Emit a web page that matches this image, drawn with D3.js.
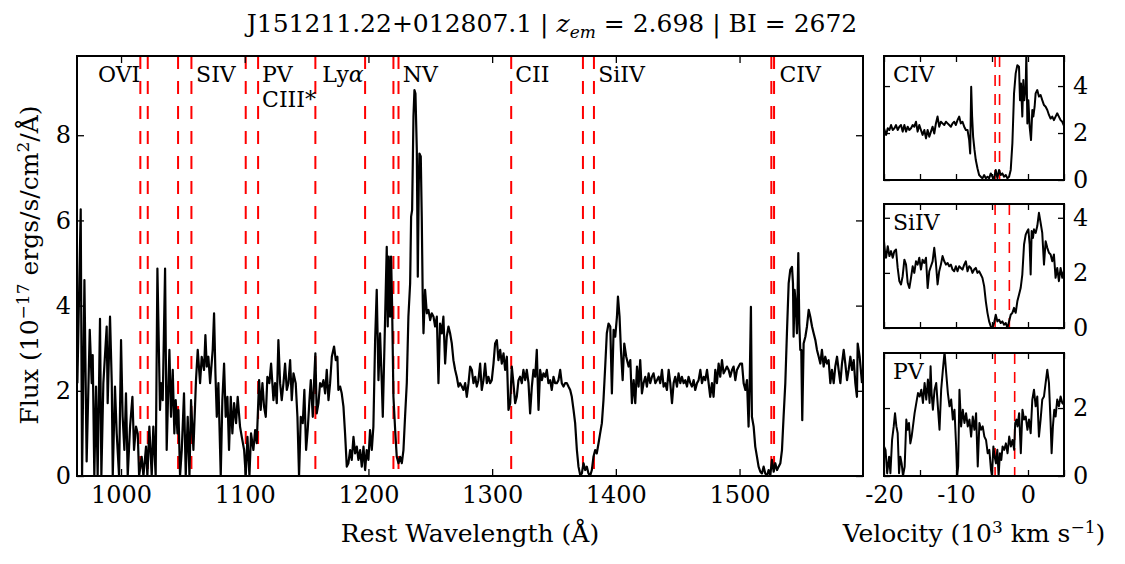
<!DOCTYPE html>
<html><head><meta charset="utf-8">
<script src="https://cdn.jsdelivr.net/npm/d3@7"></script>
<style>
body{margin:0;background:#fff}
text{font-family:"DejaVu Serif",serif;fill:#000}
</style>
</head><body>
<svg id="c" width="1125" height="564"></svg>
<script>
// ---------------- DATA ----------------
const xTicks=[1000,1100,1200,1300,1400,1500];
const yTicks=[0,2,4,6,8];
const velTicks=[-20,-15,-10,-5,0,5];
const velTickLabels=[-20,-10,0];
const absorptionWaves=[1015.6,1021.6,1046.1,1056.9,1100.8,1110.8,1157.1,1197.3,1220.2,1224.3,1315.4,1373.4,1382.3,1525.7,1527.9];
const labelNames=["OVI","SIV","PV","CIII*","Ly","NV","CII","SiIV","CIV"];
const labelWaves=[981.4,1060.7,1114.0,1114.0,1162.6,1227.8,1318.6,1385.8,1532.2];
const labelRows=[0,0,0,1,0,0,0,0,0];

const specBlue=[[964.7,2.18],[967.4,6.26],[968.5,0],[970.4,4.60],[972.2,0.34],[974.7,3.43],[976.3,2.18],[977.1,2.84],[978.4,0],[979.8,2.10],
[981.1,0],[983.0,3.69],[984.1,0],[985.7,2.18],[988.4,3.51],[989.2,1.71],[991.1,3.74],[992.5,2.18],[993.3,0],[995.1,2.10],
[996.5,1.00],[998.4,0],[1000.0,3.19],[1001.3,1.39],[1002.7,0.61],[1004.0,1.94],[1005.4,0],[1007.3,1.16],[1009.2,1.86],[1010.5,0.61],
[1012.1,1.16],[1013.5,1.00],[1014.6,0],[1016.7,0.45],[1018.1,0],[1020.2,0.69],[1021.3,0],[1022.9,1.16],[1024.8,0],[1026.1,1.16],
[1028.0,0],[1029.4,4.87],[1031.5,1.55],[1032.3,2.18],[1033.7,1.78],[1035.6,4.87],[1036.9,0.61],[1038.3,2.18],[1039.1,2.96],[1040.4,1.39],
[1041.8,2.49],[1043.1,1.00],[1044.2,1.78],[1045.6,1.00],[1046.4,1.55],[1047.7,0],[1049.1,0.61],[1050.9,1.94],[1052.3,0],[1053.9,1.39],
[1055.3,0],[1056.6,1.78],[1058.5,0.61],[1060.6,2.25],[1062.0,2.96],[1063.9,2.18],[1065.2,2.80],[1067.1,2.49],[1068.2,3.31],[1069.3,2.57],
[1070.6,2.80],[1072.0,2.18],[1074.1,2.96],[1075.2,3.82],[1076.3,2.41],[1077.4,1.39],[1078.7,2.18],[1080.6,0],[1081.9,1.78],[1083.3,2.64],
[1084.6,1.39],[1086.0,1.86],[1087.3,0.61],[1088.7,1.86],[1090.0,1.00],[1091.4,1.71],[1093.0,1.24],[1094.3,1.86],[1096.2,1.16],[1097.6,0.92],
[1099.5,0.61],[1100.8,0],[1102.2,0.92],[1103.8,0],[1105.1,1.00],[1107.0,0.61],[1108.4,1.08],[1109.7,0.77],[1111.6,2.25],[1112.9,1.55],
[1114.3,2.18],[1115.6,1.63],[1117.0,1.39],[1118.3,2.33],[1119.9,2.18],[1121.3,2.64],[1123.2,1.78],[1124.5,2.18],[1125.9,1.71],[1127.2,3.19],
[1128.6,2.18],[1129.9,1.78],[1131.3,2.18],[1132.6,2.64],[1134.0,2.02],[1135.3,2.18],[1136.7,2.72],[1138.0,1.78],[1139.4,2.41],[1141.2,2.18],
[1142.6,1.39],[1143.9,0],[1145.3,1.39],[1146.9,1.24],[1148.2,2.02],[1149.6,0.61],[1150.9,1.08],[1152.3,1.78],[1153.4,2.25],[1155.0,1.39],
[1156.1,2.25],[1157.1,2.88],[1158.2,1.47],[1159.6,1.71],[1160.9,2.18],[1162.3,2.10],[1163.6,2.25],[1165.0,1.94],[1166.3,2.49],[1167.7,1.78],
[1169.0,2.18],[1170.4,2.80],[1172.2,3.04],[1173.6,2.72],[1174.9,2.80]];

const specMid=[[1175.7,2.02],[1177.1,2.10],[1178.4,1.94],[1179.8,1.63],[1181.1,1.00],[1182.5,0.22],[1183.8,0.30],[1185.2,0.61],[1186.5,0.38],[1187.9,0.92],
[1189.2,0.53],[1190.6,0.69],[1191.9,0.38],[1193.3,0.61],[1194.6,0.22],[1196.0,0.69],[1197.3,0.14],[1198.6,0.61],[1200.0,0.38],[1201.3,1.08],
[1202.7,0.61],[1204.0,1.16],[1205.4,3.19],[1206.7,4.37],[1208.1,2.25],[1209.4,3.35],[1210.8,2.18],[1211.6,1.39],[1213.5,3.74],[1214.8,5.38],
[1215.6,3.51],[1216.4,5.15],[1217.5,3.74],[1218.3,5.15],[1219.1,4.05],[1220.2,1.86],[1221.6,1.08],[1222.9,0.45],[1224.3,0.30],[1225.6,0.45],
[1227.0,0.30],[1228.3,0.61],[1229.6,1.39],[1231.0,2.18],[1232.3,3.74],[1233.7,4.52],[1234.5,6.09],[1235.3,6.24],[1236.4,8.44],[1237.2,9.06],
[1238.0,8.98],[1239.1,7.65],[1239.9,4.68],[1240.7,6.87],[1241.2,7.57],[1242.3,7.50],[1243.1,6.09],[1243.9,4.13],[1244.5,3.35],[1245.8,4.37],
[1247.2,3.82],[1248.5,3.90],[1249.9,3.66],[1251.2,3.82],[1252.6,3.74],[1253.9,3.51],[1255.3,3.74],[1256.6,2.18],[1257.9,3.58],[1259.3,3.35],
[1260.6,3.74],[1262.0,2.64],[1263.3,3.27],[1264.7,3.51],[1266.0,3.35],[1267.4,3.11],[1268.7,2.72],[1270.1,2.49],[1271.4,2.33],[1272.8,2.10],
[1274.1,2.18],[1275.5,2.10],[1276.8,2.02],[1278.2,2.18],[1279.5,1.86],[1280.9,2.18],[1282.2,2.57],[1283.6,2.49],[1284.9,2.18],[1286.3,2.33],
[1287.6,2.10],[1288.9,2.25],[1290.3,2.64],[1291.6,2.02],[1293.0,2.25],[1294.3,2.64],[1295.7,2.18],[1297.0,2.33],[1298.4,2.18],[1299.7,2.25],
[1301.1,2.64],[1302.4,3.11],[1303.8,3.19],[1305.1,2.72],[1306.5,2.96],[1307.8,2.64],[1309.2,2.88],[1310.5,2.49],[1311.9,2.80],[1313.2,1.55],
[1314.6,1.71],[1315.9,2.57],[1317.2,2.18],[1318.6,1.71],[1319.9,1.86],[1321.3,2.25],[1322.6,2.33],[1324.0,2.18],[1325.3,2.49],[1326.7,2.25],
[1328.0,2.49],[1329.4,2.18],[1330.7,1.47],[1332.1,2.10],[1333.4,2.49],[1334.8,2.33],[1336.1,2.96],[1337.5,1.55],[1338.8,2.49],[1340.2,2.25],
[1341.5,2.41],[1342.9,2.33],[1344.2,2.49],[1345.5,2.18],[1346.9,2.25],[1348.2,2.02],[1349.6,2.33],[1350.9,2.18],[1352.3,2.18],[1353.6,2.25],
[1355.0,2.49],[1356.3,2.18],[1357.7,2.10],[1359.0,2.18],[1360.4,2.18],[1361.7,2.10],[1363.1,2.02],[1364.4,1.86],[1365.8,1.55],[1367.1,1.24],
[1368.5,0.61],[1369.8,0.22],[1371.2,0.02],[1372.5,0.06],[1373.9,0.30],[1375.2,0.14],[1376.5,0.22],[1377.9,0.06],[1379.2,0],[1380.6,0.14],
[1381.9,0.45],[1383.3,0.61],[1384.6,0.53],[1386.0,0.77],[1387.3,1.00],[1388.7,1.24],[1390.0,1.78],[1391.4,2.57],[1392.7,3.35],[1394.1,3.58]];

const specRed=[[1395.5,3.51],[1396.8,1.94],[1398.2,3.43],[1399.5,3.27],[1400.9,3.74],[1401.7,4.21],[1403.0,3.74],[1404.1,2.96],[1405.5,2.25],[1406.8,3.11],
[1408.4,2.80],[1410.3,2.57],[1411.7,2.72],[1413.0,1.71],[1414.4,2.25],[1415.7,1.71],[1417.1,2.57],[1418.4,2.10],[1419.7,2.72],[1421.1,1.94],
[1422.4,2.18],[1423.8,2.33],[1425.1,2.10],[1426.5,2.41],[1427.8,2.18],[1429.2,2.33],[1430.5,2.41],[1431.9,2.18],[1433.2,2.25],[1434.6,2.33],
[1435.9,2.18],[1437.3,2.49],[1438.6,2.10],[1440.0,2.18],[1441.3,2.02],[1442.7,2.49],[1444.0,2.18],[1445.4,1.71],[1446.7,2.18],[1448.0,2.33],
[1449.4,2.10],[1450.7,2.41],[1452.1,2.18],[1453.4,2.33],[1454.8,2.18],[1456.1,2.25],[1457.5,2.10],[1458.8,2.33],[1460.2,2.18],[1461.5,2.10],
[1462.9,2.25],[1464.2,2.02],[1465.6,2.18],[1466.9,2.25],[1468.3,2.49],[1469.6,2.18],[1471.0,2.33],[1472.3,2.25],[1473.7,2.49],[1475.0,2.18],
[1476.3,1.86],[1477.7,2.18],[1479.0,1.86],[1480.4,2.49],[1481.7,2.18],[1483.1,2.64],[1484.4,2.33],[1485.8,2.72],[1487.1,2.41],[1488.5,2.49],
[1489.8,2.57],[1491.2,2.49],[1492.5,2.33],[1493.9,2.49],[1495.2,2.57],[1496.6,2.25],[1497.9,2.49],[1499.3,2.57],[1500.6,2.64],[1502.0,2.64],
[1503.3,2.18],[1504.7,2.02],[1506.0,2.25],[1507.3,1.16],[1508.2,2.18],[1509.2,3.97],[1510.0,1.39],[1511.4,1.16],[1512.7,0.69],[1514.1,0.45],
[1515.4,0.22],[1516.8,0.10],[1518.1,0.06],[1519.5,0.22],[1520.8,0.06],[1522.2,0],[1523.5,0.14],[1524.9,0.02],[1526.2,0.38],[1527.6,0.10],
[1528.9,0.30],[1530.3,0.14],[1531.6,0.22],[1533.0,0.30],[1534.3,0.61],[1535.6,1.39],[1537.0,2.18],[1538.3,3.35],[1539.7,4.52],[1541.0,4.84],
[1542.4,4.91],[1543.2,4.52],[1543.7,3.27],[1544.5,4.37],[1545.4,4.05],[1546.4,3.35],[1547.5,5.23],[1548.3,3.58],[1549.1,2.96],[1549.9,2.96],
[1550.7,1.31],[1551.8,3.11],[1553.2,3.27],[1554.5,3.51],[1555.9,3.90],[1557.2,3.74],[1558.6,3.51],[1559.9,3.35],[1561.3,3.19],[1562.6,2.96],
[1564.0,2.80],[1565.3,2.64],[1566.6,2.96],[1568.0,2.57],[1569.3,2.80],[1570.7,2.64],[1572.0,2.72],[1573.4,2.18],[1574.7,2.49],[1576.1,2.18],
[1577.4,2.57],[1578.8,2.80],[1580.1,2.49],[1581.5,2.18],[1582.8,2.64],[1584.2,2.96],[1585.5,2.64],[1586.9,2.25],[1588.2,2.49],[1589.6,2.80],
[1590.9,2.49],[1592.3,2.72],[1593.6,2.18],[1594.9,1.86],[1595.5,3.11],[1597.1,2.80],[1599.0,2.18]];

const civVelocity=[[-20.0,2.20],[-19.71,1.92],[-19.48,2.20],[-19.25,2.13],[-19.02,2.34],[-18.79,2.13],[-18.56,2.20],[-18.33,2.34],[-18.10,2.13],[-17.87,2.27],
[-17.64,2.34],[-17.41,2.06],[-17.17,2.34],[-16.94,2.06],[-16.71,2.27],[-16.48,2.13],[-16.25,2.20],[-16.02,2.34],[-15.79,2.27],[-15.56,2.48],
[-15.33,2.06],[-15.10,2.34],[-14.87,2.13],[-14.64,1.92],[-14.40,2.13],[-14.17,1.77],[-13.94,2.13],[-13.71,1.84],[-13.48,2.06],[-13.25,2.27],
[-13.02,1.98],[-12.79,2.41],[-12.56,2.70],[-12.33,2.27],[-12.10,2.48],[-11.87,2.41],[-11.63,2.34],[-11.40,2.48],[-11.17,2.41],[-10.94,2.34],
[-10.71,2.27],[-10.48,2.41],[-10.25,2.48],[-10.02,2.34],[-9.79,2.55],[-9.56,2.70],[-9.33,2.41],[-9.10,2.48],[-8.86,2.27],[-8.63,2.13],
[-8.40,2.13],[-8.17,1.70],[-8.03,1.13],[-7.89,3.97],[-7.76,2.70],[-7.62,1.84],[-7.43,1.28],[-7.25,0.85],[-7.02,0.50],[-6.79,0.21],
[-6.56,0.14],[-6.33,0.07],[-6.09,0.21],[-5.86,0.07],[-5.63,0.14],[-5.40,0.07],[-5.17,0.28],[-4.94,0.14],[-4.71,0.07],[-4.48,0.43],
[-4.25,0.07],[-4.02,0.43],[-3.79,0.21],[-3.56,0.28],[-3.32,0.14],[-3.09,0.21],[-2.86,0.07],[-2.63,0.14],[-2.40,0.43],[-2.17,1.56],
[-1.94,3.69],[-1.71,4.54],[-1.48,4.89],[-1.25,4.82],[-1.11,3.40],[-0.97,4.11],[-0.79,2.70],[-0.65,4.26],[-0.51,3.40],[-0.32,3.97],
[-0.23,5.40],[-0.09,2.41],[0.05,3.40],[0.23,2.27],[0.42,1.70],[0.60,2.98],[0.74,2.70],[0.92,3.12],[1.06,3.69],[1.29,3.83],
[1.52,3.55],[1.75,3.62],[1.98,3.40],[2.22,3.19],[2.45,3.12],[2.68,2.98],[2.91,2.77],[3.14,2.62],[3.37,2.70],[3.60,2.55],
[3.83,2.70],[4.06,2.84],[4.29,2.70],[4.53,2.55],[4.76,2.48],[5.0,2.30]];

const siivVelocity=[[-20.0,3.15],[-19.87,2.79],[-19.71,2.55],[-19.48,2.97],[-19.25,2.61],[-19.02,2.79],[-18.79,2.55],[-18.56,2.79],[-18.33,2.85],[-18.10,2.18],
[-17.87,1.70],[-17.64,1.58],[-17.41,1.88],[-17.17,2.48],[-16.94,2.30],[-16.71,1.64],[-16.48,1.45],[-16.25,1.82],[-16.02,2.24],[-15.79,2.00],
[-15.56,2.42],[-15.33,2.30],[-15.10,2.55],[-14.87,2.12],[-14.64,2.48],[-14.40,2.36],[-14.17,2.55],[-13.94,1.45],[-13.71,2.06],[-13.48,2.24],
[-13.25,2.42],[-13.02,2.91],[-12.79,2.36],[-12.56,1.58],[-12.33,2.06],[-12.10,2.30],[-11.87,2.61],[-11.63,2.42],[-11.40,2.30],[-11.17,2.36],
[-10.94,2.24],[-10.71,2.30],[-10.48,2.12],[-10.25,2.06],[-10.02,2.24],[-9.79,2.06],[-9.56,2.24],[-9.33,2.18],[-9.10,2.12],[-8.86,2.30],
[-8.63,2.42],[-8.40,2.06],[-8.17,2.24],[-7.94,2.18],[-7.71,2.00],[-7.48,2.12],[-7.25,2.18],[-7.02,2.00],[-6.79,2.06],[-6.56,1.94],
[-6.33,1.82],[-6.09,1.52],[-5.86,0.97],[-5.63,0.55],[-5.40,0.24],[-5.17,0.06],[-4.94,0.0],[-4.71,0.18],[-4.48,0.48],[-4.25,0.24],
[-4.02,0.30],[-3.79,0.18],[-3.56,0.24],[-3.32,0.12],[-3.09,0.18],[-2.86,0.0],[-2.63,0.24],[-2.40,0.48],[-2.17,0.55],[-1.94,0.73],
[-1.71,0.55],[-1.48,0.97],[-1.25,1.21],[-1.02,1.45],[-0.79,1.94],[-0.55,3.03],[-0.32,3.39],[-0.09,3.52],[0.05,3.58],[0.23,3.03],
[0.37,1.94],[0.51,3.52],[0.69,3.27],[0.83,3.58],[1.06,3.45],[1.29,3.70],[1.52,4.18],[1.75,3.82],[1.98,3.45],[2.22,2.30],
[2.45,3.15],[2.68,2.91],[2.91,2.73],[3.14,2.67],[3.37,2.42],[3.60,2.67],[3.83,1.82],[4.06,2.18],[4.29,1.70],[4.53,2.18],
[4.76,1.82],[5.0,2.10]];

const pvVelocity=[[-20.0,0.87],[-19.79,0.77],[-19.56,0.08],[-19.29,0.57],[-19.11,0.08],[-18.88,1.06],[-18.65,1.46],[-18.47,1.85],[-18.28,1.46],[-18.10,1.26],
[-17.91,0.08],[-17.73,0.57],[-17.55,0.37],[-17.36,0.0],[-17.13,0.28],[-16.90,1.66],[-16.71,1.36],[-16.53,1.56],[-16.34,0.96],[-16.16,1.16],
[-15.98,1.46],[-15.75,1.85],[-15.51,2.15],[-15.28,2.44],[-15.05,2.34],[-14.82,2.54],[-14.59,2.15],[-14.36,2.74],[-14.13,2.25],[-13.90,2.84],
[-13.67,2.15],[-13.53,3.23],[-13.39,2.44],[-13.21,1.95],[-12.98,2.54],[-12.75,2.74],[-12.52,2.05],[-12.29,1.36],[-12.06,2.54],[-11.82,3.13],
[-11.59,3.65],[-11.36,3.03],[-11.13,2.44],[-10.90,2.05],[-10.67,2.25],[-10.44,1.66],[-10.21,1.95],[-9.98,0.87],[-9.84,0.0],[-9.70,0.28],
[-9.52,2.54],[-9.29,1.46],[-9.06,1.95],[-8.83,1.56],[-8.60,1.85],[-8.37,1.46],[-8.13,1.66],[-7.90,1.16],[-7.67,1.75],[-7.44,1.36],
[-7.21,1.85],[-6.98,0.28],[-6.75,1.56],[-6.52,1.36],[-6.29,1.46],[-6.06,1.16],[-5.83,1.06],[-5.60,0.67],[-5.37,0.77],[-5.14,0.18],
[-5.00,0.0],[-4.81,0.87],[-4.63,0.57],[-4.45,0.37],[-4.26,0.77],[-4.08,0.0],[-3.90,0.67],[-3.71,0.47],[-3.53,0.87],[-3.30,0.77],
[-3.07,0.96],[-2.84,0.67],[-2.61,1.16],[-2.38,0.87],[-2.15,1.06],[-1.92,0.77],[-1.78,1.56],[-1.60,1.66],[-1.46,1.46],[-1.23,1.85],
[-1.00,0.67],[-0.77,1.95],[-0.54,1.66],[-0.31,1.75],[-0.08,1.36],[0.14,1.66],[0.37,1.26],[0.60,2.25],[0.83,2.54],[1.06,2.05],
[1.29,2.34],[1.52,1.16],[1.75,1.66],[1.98,2.25],[2.22,2.34],[2.45,2.74],[2.68,3.13],[2.91,2.74],[3.14,1.56],[3.28,0.67],
[3.46,1.46],[3.65,1.95],[3.83,1.75],[4.06,2.25],[4.29,2.05],[4.53,2.34],[4.76,2.15],[5.0,2.10]];

const civMarks=[-4.57,-3.95];
const siivMarks=[-4.57,-2.59];
const pvMarks=[-4.57,-1.85];
const civTicks=[0,2,4], siivTicks=[0,2,4], pvTicks=[0,2];

// ---------------- DRAW ----------------
const svg=d3.select("#c");
const FS_TICK=24, FS_LAB=22, FS_AX=25, FS_SUP=17;
const M={l:77,r:863,t:56,b:476};
const x=d3.scaleLinear().domain([964.4,1599.8]).range([M.l,M.r]);
const y=d3.scaleLinear().domain([0,9.86]).range([M.b,M.t]);

const defs=svg.append("defs");
defs.append("clipPath").attr("id","clipMain").append("rect")
  .attr("x",M.l).attr("y",M.t).attr("width",M.r-M.l).attr("height",M.b-M.t);

// title
const title=svg.append("text").attr("x",552).attr("y",32).attr("text-anchor","middle").style("font-size","25px");
title.append("tspan").text("J151211.22+012807.1 | ");
title.append("tspan").style("font-style","italic").text("z");
title.append("tspan").style("font-style","italic").style("font-size","17px").attr("dy",6).text("em");
title.append("tspan").attr("dy",-6).text(" = 2.698 | BI = 2672");

// main plot
const gMain=svg.append("g");
const gClip=gMain.append("g").attr("clip-path","url(#clipMain)");
gClip.selectAll("line.abs").data(absorptionWaves).join("line").attr("class","abs")
  .attr("x1",d=>x(d)).attr("x2",d=>x(d)).attr("y1",M.t).attr("y2",M.b)
  .attr("stroke","#ff0000").attr("stroke-width",2).attr("stroke-dasharray","13,12");
const spectrum=specBlue.concat(specMid,specRed);
const line=d3.line().x(d=>x(d[0])).y(d=>y(d[1]));
gClip.append("path").datum(spectrum).attr("d",line).attr("fill","none")
  .attr("stroke","#000").attr("stroke-width",2.2).attr("stroke-linejoin","round");

// labels
labelNames.forEach((n,i)=>{
  const t=gMain.append("text").attr("x",x(labelWaves[i])).attr("y",labelRows[i]?107:82).style("font-size",FS_LAB+"px");
  if(n==="Ly"){t.append("tspan").text("Ly");t.append("tspan").style("font-style","italic").text("α");}
  else t.text(n);
});

function styleAxis(g){
  g.select(".domain").remove();
  g.selectAll(".tick line").attr("stroke","#000").attr("stroke-width",1.3);
  g.selectAll(".tick text").style("font-size",FS_TICK+"px").style("font-family","DejaVu Serif");
}
gMain.append("g").attr("transform",`translate(0,${M.b})`)
  .call(d3.axisBottom(x).tickValues(xTicks).tickSize(-7).tickSizeOuter(0).tickPadding(10).tickFormat(d3.format("d")))
  .call(styleAxis);
gMain.append("g").attr("transform",`translate(0,${M.t})`)
  .call(d3.axisTop(x).tickValues(xTicks).tickSize(-7).tickSizeOuter(0).tickFormat(""))
  .call(styleAxis);
gMain.append("g").attr("transform",`translate(${M.l},0)`)
  .call(d3.axisLeft(y).tickValues(yTicks).tickSize(-7).tickSizeOuter(0).tickPadding(6).tickFormat(d3.format("d")))
  .call(styleAxis);
gMain.append("g").attr("transform",`translate(${M.r},0)`)
  .call(d3.axisRight(y).tickValues(yTicks).tickSize(-7).tickSizeOuter(0).tickFormat(""))
  .call(styleAxis);
gMain.append("rect").attr("x",M.l).attr("y",M.t).attr("width",M.r-M.l).attr("height",M.b-M.t)
  .attr("fill","none").attr("stroke","#000").attr("stroke-width",2);

// axis labels
svg.append("text").attr("x",(M.l+M.r)/2).attr("y",542).attr("text-anchor","middle").style("font-size",FS_AX+"px")
  .text("Rest Wavelength (Å)");
const yl=svg.append("text").attr("transform","translate(38,265) rotate(-90)").attr("text-anchor","middle").style("font-size",FS_AX+"px");
yl.append("tspan").text("Flux (10");
yl.append("tspan").attr("dy",-9).style("font-size",FS_SUP+"px").text("−17");
yl.append("tspan").attr("dy",9).text(" ergs/s/cm");
yl.append("tspan").attr("dy",-9).style("font-size",FS_SUP+"px").text("2");
yl.append("tspan").attr("dy",9).text("/Å)");

// side panels
const P={l:884,r:1064};
const vx=d3.scaleLinear().domain([-20,5]).range([P.l,P.r]);
const panels=[
  {name:"CIV",data:civVelocity,marks:civMarks,ymax:5.28,ticks:civTicks,t:56,b:180},
  {name:"SiIV",data:siivVelocity,marks:siivMarks,ymax:4.5,ticks:siivTicks,t:204,b:328},
  {name:"PV",data:pvVelocity,marks:pvMarks,ymax:3.62,ticks:pvTicks,t:353,b:476}
];
panels.forEach((p,i)=>{
  const vy=d3.scaleLinear().domain([0,p.ymax]).range([p.b,p.t]);
  const cid="clipP"+i;
  defs.append("clipPath").attr("id",cid).append("rect").attr("x",P.l).attr("y",p.t).attr("width",P.r-P.l).attr("height",p.b-p.t);
  const g=svg.append("g");
  const gc=g.append("g").attr("clip-path",`url(#${cid})`);
  gc.selectAll("line.m").data(p.marks).join("line").attr("class","m")
    .attr("x1",d=>vx(d)).attr("x2",d=>vx(d)).attr("y1",p.t).attr("y2",p.b)
    .attr("stroke","#ff0000").attr("stroke-width",1.6).attr("stroke-dasharray","11,8");
  gc.append("path").datum(p.data).attr("d",d3.line().x(d=>vx(d[0])).y(d=>vy(d[1])))
    .attr("fill","none").attr("stroke","#000").attr("stroke-width",2).attr("stroke-linejoin","round");
  g.append("text").attr("x",893).attr("y",p.t+26).style("font-size",FS_LAB+"px").text(p.name);
  const last=i===panels.length-1;
  g.append("g").attr("transform",`translate(0,${p.b})`)
    .call(d3.axisBottom(vx).tickValues(velTicks).tickSize(-6).tickSizeOuter(0).tickPadding(10)
      .tickFormat(d=>last&&velTickLabels.includes(d)?d3.format("d")(d):""))
    .call(styleAxis);
  g.append("g").attr("transform",`translate(0,${p.t})`)
    .call(d3.axisTop(vx).tickValues(velTicks).tickSize(-6).tickSizeOuter(0).tickFormat(""))
    .call(styleAxis);
  g.append("g").attr("transform",`translate(${P.r},0)`)
    .call(d3.axisRight(vy).tickValues(p.ticks).tickSize(-6).tickSizeOuter(0).tickPadding(9).tickFormat(d3.format("d")))
    .call(styleAxis);
  g.append("g").attr("transform",`translate(${P.l},0)`)
    .call(d3.axisLeft(vy).tickValues(p.ticks).tickSize(-6).tickSizeOuter(0).tickFormat(""))
    .call(styleAxis);
  g.append("rect").attr("x",P.l).attr("y",p.t).attr("width",P.r-P.l).attr("height",p.b-p.t)
    .attr("fill","none").attr("stroke","#000").attr("stroke-width",2);
});
svg.selectAll(".tick text").each(function(){const s=d3.select(this);s.text(s.text().replace("−","-"));});

const vl=svg.append("text").attr("x",(P.l+P.r)/2).attr("y",542).attr("text-anchor","middle").style("font-size",FS_AX+"px");
vl.append("tspan").text("Velocity (10");
vl.append("tspan").attr("dy",-9).style("font-size",FS_SUP+"px").text("3");
vl.append("tspan").attr("dy",9).text(" km s");
vl.append("tspan").attr("dy",-9).style("font-size",FS_SUP+"px").text("−1");
vl.append("tspan").attr("dy",9).text(")");
</script>
</body></html>
